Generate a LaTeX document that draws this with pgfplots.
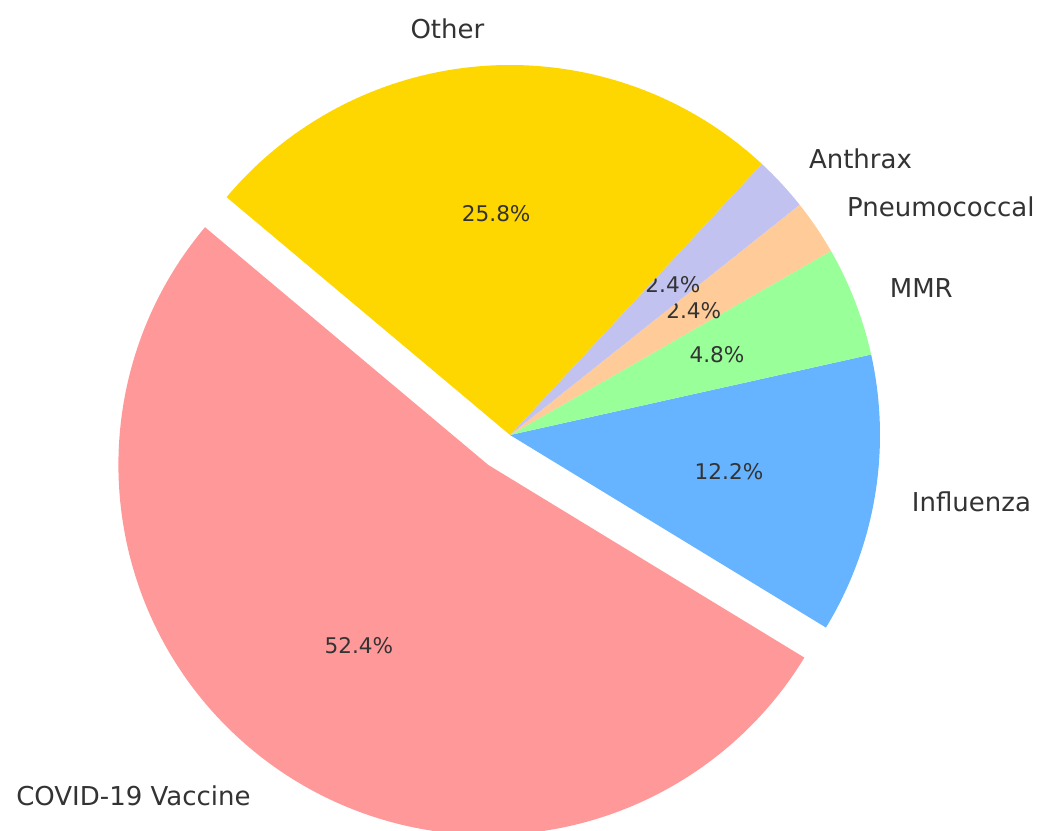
\documentclass[border=0pt]{standalone}
\usepackage{pgfplots}
\usepackage{pgfplotstable}
\pgfplotsset{compat=1.18}
\usepackage{fontspec}
\setmainfont{DejaVu Sans}
\definecolor{cCovid}{HTML}{FF9999}
\definecolor{cFlu}{HTML}{66B3FF}
\definecolor{cMMR}{HTML}{99FF99}
\definecolor{cPneu}{HTML}{FFCC99}
\definecolor{cAnth}{HTML}{C2C2F0}
\definecolor{cOther}{HTML}{FFD700}
\definecolor{txt}{HTML}{333333}

\pgfplotstableread[col sep=comma]{
label,value,explode,color
COVID-19 Vaccine,52.4,0.1,cCovid
Influenza,12.2,0,cFlu
MMR,4.8,0,cMMR
Pneumococcal,2.4,0,cPneu
Anthrax,2.4,0,cAnth
Other,25.8,0,cOther
}\piedata

\begin{document}
\begin{tikzpicture}
\begin{axis}[hide axis, scale only axis, width=518.5pt, height=415pt,
  xmin=0, xmax=1037, ymin=0, ymax=830, clip=true]
\pgfmathsetmacro\cum{140}
\def\Ru{370}% radius in axis units (1 unit = 0.5pt)
\def\cx{510}\def\cy{395}
\pgfplotsforeachungrouped \i in {0,...,5}{%
  \pgfplotstablegetelem{\i}{value}\of\piedata \let\v\pgfplotsretval
  \pgfplotstablegetelem{\i}{explode}\of\piedata \let\e\pgfplotsretval
  \pgfplotstablegetelem{\i}{color}\of\piedata \let\c\pgfplotsretval
  \pgfplotstablegetelem{\i}{label}\of\piedata \let\l\pgfplotsretval
  \pgfmathsetmacro\a{\cum}%
  \pgfmathsetmacro\b{\cum+3.6*\v}%
  \pgfmathsetmacro\m{(\a+\b)/2}%
  \pgfmathsetmacro\ox{\cx+\e*\Ru*cos(\m)}%
  \pgfmathsetmacro\oy{\cy+\e*\Ru*sin(\m)}%
  \pgfmathsetmacro\sx{\ox+\Ru*cos(\a)}%
  \pgfmathsetmacro\sy{\oy+\Ru*sin(\a)}%
  \pgfmathsetmacro\px{\ox+0.6*\Ru*cos(\m)}%
  \pgfmathsetmacro\py{\oy+0.6*\Ru*sin(\m)}%
  \pgfmathsetmacro\lx{\ox+1.1*\Ru*cos(\m)}%
  \pgfmathsetmacro\ly{\oy+1.1*\Ru*sin(\m)}%
  \pgfmathsetmacro\cs{cos(\m)}%
  \ifdim\cs pt>0pt \def\anc{west}\else\def\anc{east}\fi
  \edef\temp{%
    \noexpand\fill[\c] (axis cs:\ox,\oy) -- (axis cs:\sx,\sy)
      arc[start angle=\a, end angle=\b, radius=185pt] -- cycle;
    \noexpand\node[text=txt, font=\noexpand\fontsize{10.8}{13}\noexpand\selectfont, inner sep=0pt]
      at (axis cs:\px,\py) {\v\noexpand\%};
    \noexpand\node[text=txt, font=\noexpand\fontsize{13}{15}\noexpand\selectfont, inner sep=0pt, anchor=\anc]
      at (axis cs:\lx,\ly) {\l};
  }%
  \temp
  \xdef\cum{\b}%
}
\end{axis}
\pgfresetboundingbox
\useasboundingbox (current axis.south west) rectangle (current axis.north east);
\end{tikzpicture}
\end{document}
